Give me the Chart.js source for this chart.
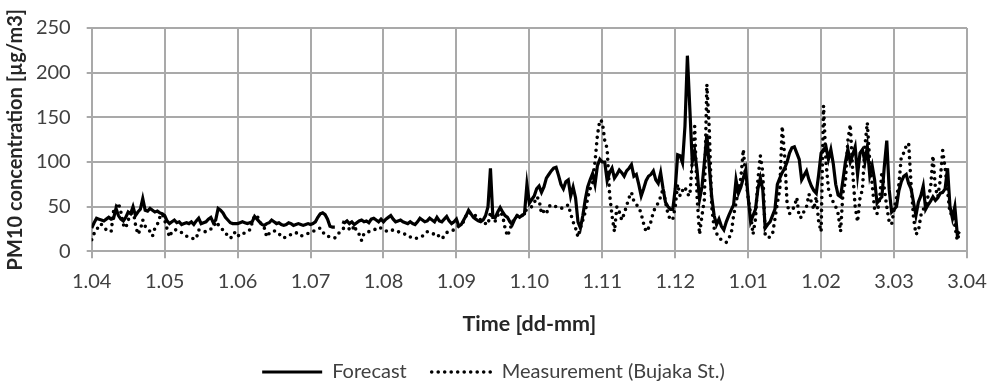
<!DOCTYPE html>
<html><head><meta charset="utf-8">
<script src="https://cdn.jsdelivr.net/npm/chart.js@4.4.1/dist/chart.umd.min.js"></script>
<style>html,body{margin:0;padding:0;background:#fff;}canvas{display:block;}</style>
</head><body>
<canvas id="c" width="998" height="386"></canvas>
<script>
const tickLabels = ['1.04','1.05','1.06','1.07','1.08','1.09','1.10','1.11','1.12','1.01','1.02','3.03','3.04'];
const pointsPerTick = 30;
const seriesNames = ['Forecast', 'Measurement (Bujaka St.)'];
const yTitle = 'PM10 concentration [µg/m3]';
const xTitle = 'Time [dd-mm]';

const forecast = [
26,32,37,36,35,34,36,38,36,37,48,40,36,34,38,44,42,50,40,44,47,59,46,45,48,46,44,45,43,42,
40,34,31,33,35,32,33,30,31,32,31,33,30,34,37,31,32,33,36,38,32,35,48,46,43,38,35,32,31,31,
31,32,33,32,31,32,33,39,36,33,30,29,31,32,35,33,31,32,30,29,30,32,31,29,30,31,30,29,30,31,
30,31,33,38,42,43,41,36,28,27,27,null,null,33,32,34,31,33,30,32,34,35,33,34,32,36,37,35,33,36,
33,36,38,40,36,33,34,35,33,32,31,33,31,30,33,37,35,33,34,37,35,33,38,34,33,36,39,34,31,33,
36,28,30,35,40,46,42,38,36,34,33,35,40,50,93,38,38,44,49,44,40,38,33,30,36,40,38,40,42,75,
54,58,62,70,73,66,72,82,86,90,93,94,85,75,70,78,80,62,72,60,33,26,40,58,72,80,87,75,96,103,
100,100,79,88,93,82,86,91,88,84,90,93,97,84,86,75,62,70,79,84,86,90,80,76,88,70,55,50,47,47,
70,108,107,99,140,219,160,100,112,90,58,72,100,131,95,61,40,30,36,28,24,33,40,46,52,80,65,72,82,91,
60,33,40,47,70,82,69,26,30,33,40,47,75,82,88,93,100,110,116,117,110,103,80,85,90,80,73,68,65,86,
110,114,117,103,114,98,75,63,61,80,100,114,100,108,117,86,110,114,100,117,85,96,80,54,58,61,95,124,69,44,
47,50,68,78,84,86,76,70,55,40,55,62,73,47,52,56,61,57,60,65,66,70,93,50,37,50,19,22
];

const measurement = [
13,20,23,30,30,27,24,23,22,45,50,54,44,30,26,35,40,47,30,19,24,35,28,26,22,17,26,30,38,42,
35,25,16,22,24,24,22,21,19,17,16,15,14,14,24,23,22,22,23,25,26,33,30,26,24,22,16,15,16,22,
18,17,19,21,22,24,32,40,40,34,29,26,16,20,22,23,22,20,16,15,16,17,19,20,21,19,17,18,19,20,
21,22,24,25,26,22,18,17,16,15,15,17,22,24,27,26,25,23,29,22,19,12,20,21,22,23,24,25,27,26,
25,23,22,23,24,23,22,21,20,19,17,16,15,14,15,16,17,19,22,21,20,19,20,16,14,17,21,22,23,24,
26,29,31,33,40,44,42,40,40,38,35,33,31,30,44,36,34,40,44,40,26,17,24,33,36,40,38,40,44,47,
48,50,54,61,58,42,45,42,50,52,51,50,49,48,49,50,52,42,33,26,16,26,35,44,60,70,76,100,130,147,
145,124,115,64,40,22,50,44,35,42,51,60,66,56,52,50,42,31,22,26,33,44,50,54,61,70,55,42,35,36,
50,75,62,68,72,64,62,100,140,60,19,40,58,187,137,50,26,20,15,13,12,10,15,19,40,54,70,82,114,82,
60,42,19,36,80,107,89,19,15,16,19,36,54,69,140,107,54,42,46,50,60,38,38,45,50,64,55,47,61,33,
22,163,100,70,61,55,50,42,22,66,78,124,142,89,50,33,60,69,117,144,100,75,47,42,57,89,70,50,33,30,
47,60,75,107,110,118,121,75,38,19,22,40,47,50,62,70,107,71,61,80,113,93,68,42,42,29,12,22
];

const yTicks = [0, 50, 100, 150, 200, 250];

Chart.defaults.font.family = 'Lato, "Liberation Sans", sans-serif';
Chart.defaults.font.size = 20;
Chart.defaults.color = '#404040';

const gridColor = '#a9a9a9';

const legendFix = {
  id: 'legendFix',
  afterInit(chart) {
    const lg = chart.legend;
    if (!lg) return;
    const orig = lg.fit.bind(lg);
    lg.fit = function () { orig(); this.height = 49; };
  },
  afterLayout(chart) {
    const lg = chart.legend;
    if (!lg) return;
    lg.left += 10; lg.right += 10;
  }
};

new Chart(document.getElementById('c'), {
  type: 'line',
  data: {
    datasets: [
      {
        label: seriesNames[0],
        data: forecast.map((v, i) => ({x: i, y: v})),
        borderColor: '#000',
        backgroundColor: '#000',
        borderWidth: 3.2,
        pointRadius: 0,
        tension: 0,
        spanGaps: false,
        borderCapStyle: 'butt',
        borderJoinStyle: 'miter'
      },
      {
        label: seriesNames[1],
        data: measurement.map((v, i) => ({x: i, y: v})),
        borderColor: '#000',
        backgroundColor: '#000',
        borderWidth: 3.6,
        borderDash: [0, 6.5],
        borderCapStyle: 'round',
        pointRadius: 0,
        tension: 0
      }
    ]
  },
  options: {
    responsive: false,
    animation: false,
    devicePixelRatio: 1,
    layout: {padding: {top: 14.3, right: 31, left: 0, bottom: 0}},
    plugins: {
      tooltip: {enabled: false},
      legend: {
        position: 'bottom',
        labels: {
          usePointStyle: true,
          pointStyle: 'line',
          pointStyleWidth: 60,
          padding: 25,
          color: '#404040',
          font: {size: 20},
          generateLabels: chart => {
            const items = Chart.defaults.plugins.legend.labels.generateLabels(chart);
            items.forEach(it => {
              const ds = chart.data.datasets[it.datasetIndex];
              it.lineDash = ds.borderDash || [];
              it.lineCap = ds.borderCapStyle || 'butt';
              it.lineWidth = ds.borderWidth;
              it.strokeStyle = ds.borderColor;
              it.pointStyle = 'line';
            });
            return items;
          }
        }
      }
    },
    scales: {
      x: {
        type: 'linear',
        min: 0,
        max: (tickLabels.length - 1) * pointsPerTick,
        afterBuildTicks: s => { s.ticks = tickLabels.map((_, k) => ({value: k * pointsPerTick})); },
        afterFit: s => { s.height = 85.7; },
        ticks: {
          autoSkip: false,
          maxRotation: 0,
          padding: 11,
          color: '#404040',
          callback: v => tickLabels[Math.round(v / pointsPerTick)]
        },
        grid: {color: gridColor, lineWidth: 2, tickLength: 7},
        border: {color: gridColor, width: 2},
        title: {display: true, text: xTitle, color: '#262626', font: {size: 21.5, weight: 'bold'}, padding: {top: 0, bottom: 0}}
      },
      y: {
        min: 0,
        max: 250,
        afterBuildTicks: s => { s.ticks = yTicks.map(v => ({value: v})); },
        afterFit: s => { s.width = 91.7; },
        ticks: {padding: 16, color: '#404040'},
        grid: {color: gridColor, lineWidth: 2, tickLength: 5},
        border: {color: gridColor, width: 2},
        title: {display: true, text: yTitle, color: '#262626', font: {size: 20, weight: 'bold'}, padding: {top: 4, bottom: 0}}
      }
    }
  },
  plugins: [legendFix]
});
</script>
</body></html>
